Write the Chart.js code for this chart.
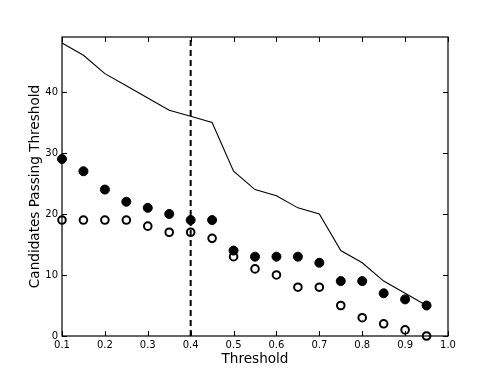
<!DOCTYPE html>
<html>
<head>
<meta charset="utf-8">
<script src="https://cdn.jsdelivr.net/npm/chart.js@4"></script>
<style>
  html, body { margin: 0; padding: 0; background: #fff; }
  #wrap { width: 498px; height: 374px; }
</style>
</head>
<body>
<div id="wrap"><canvas id="chart" width="498" height="374"></canvas></div>
<script>
// thresholds and counts
const thresholds = [0.1, 0.15, 0.2, 0.25, 0.3, 0.35, 0.4, 0.45, 0.5, 0.55, 0.6, 0.65, 0.7, 0.75, 0.8, 0.85, 0.9, 0.95];
const allCandidates = [48, 46, 43, 41, 39, 37, 36, 35, 27, 24, 23, 21, 20, 14, 12, 9, 7, 5];
const filledCounts = [29, 27, 24, 22, 21, 20, 19, 19, 14, 13, 13, 13, 12, 9, 9, 7, 6, 5];
const openCounts = [19, 19, 19, 19, 18, 17, 17, 16, 13, 11, 10, 8, 8, 5, 3, 2, 1, 0];
const chosenThreshold = 0.4;

const xTicks = [0.1, 0.2, 0.3, 0.4, 0.5, 0.6, 0.7, 0.8, 0.9, 1.0];
const yTicks = [0, 10, 20, 30, 40];
const xMin = 0.1, xMax = 1.0, yMin = 0, yMax = 49;

const toPoints = (xs, ys) => xs.map((x, i) => ({ x: x, y: ys[i] }));

// frame + inward ticks on all four sides, matplotlib style
const frameTicks = {
    id: 'frameTicks',
    afterDraw(chart) {
        const { ctx, chartArea: a, scales } = chart;
        ctx.save();
        ctx.strokeStyle = '#000';
        ctx.lineWidth = 1;
        xTicks.forEach(v => {
            const px = Math.round(scales.x.getPixelForValue(v)) + 0.5;
            ctx.beginPath();
            ctx.moveTo(px, a.bottom); ctx.lineTo(px, a.bottom - 5);
            ctx.moveTo(px, a.top); ctx.lineTo(px, a.top + 5);
            ctx.stroke();
        });
        yTicks.forEach(v => {
            const py = Math.round(scales.y.getPixelForValue(v)) + 0.5;
            ctx.beginPath();
            ctx.moveTo(a.left, py); ctx.lineTo(a.left + 5, py);
            ctx.moveTo(a.right, py); ctx.lineTo(a.right - 5, py);
            ctx.stroke();
        });
        ctx.lineWidth = 1.2;
        ctx.strokeRect(a.left, a.top, a.right - a.left, a.bottom - a.top);
        ctx.restore();
    }
};

Chart.defaults.font.family = '"DejaVu Sans", sans-serif';
Chart.defaults.color = '#000';

new Chart(document.getElementById('chart'), {
    type: 'scatter',
    data: {
        datasets: [
            {
                type: 'line',
                data: [{ x: chosenThreshold, y: yMin }, { x: chosenThreshold, y: yMax }],
                borderColor: '#000',
                borderWidth: 2,
                borderDash: [6, 4],
                pointRadius: 0,
                fill: false
            },
            {
                type: 'line',
                data: toPoints(thresholds, allCandidates),
                borderColor: '#000',
                borderWidth: 1.1,
                pointRadius: 0,
                tension: 0,
                fill: false
            },
            {
                data: toPoints(thresholds, filledCounts),
                backgroundColor: '#000',
                borderColor: '#000',
                borderWidth: 1,
                pointRadius: 4.5
            },
            {
                data: toPoints(thresholds, openCounts),
                backgroundColor: '#fff',
                borderColor: '#000',
                borderWidth: 2,
                pointRadius: 3.8
            }
        ]
    },
    options: {
        responsive: false,
        animation: false,
        clip: false,
        layout: { padding: { left: 27, top: 37, right: 50, bottom: 0 } },
        plugins: { legend: { display: false }, tooltip: { enabled: false } },
        scales: {
            x: {
                type: 'linear',
                min: xMin,
                max: xMax,
                afterBuildTicks: s => { s.ticks = xTicks.map(v => ({ value: v })); },
                afterFit: s => { s.height = 38; },
                grid: { display: false, drawTicks: false },
                border: { display: false },
                ticks: {
                    font: { size: 10 },
                    padding: 3,
                    maxRotation: 0,
                    callback: v => v.toFixed(1)
                },
                title: {
                    display: true,
                    text: 'Threshold',
                    font: { size: 13.6 },
                    padding: { top: 0, bottom: 6 }
                }
            },
            y: {
                min: yMin,
                max: yMax,
                afterBuildTicks: s => { s.ticks = yTicks.map(v => ({ value: v })); },
                afterFit: s => { s.width = 35; },
                grid: { display: false, drawTicks: false },
                border: { display: false },
                ticks: { font: { size: 10 }, padding: 4 },
                title: {
                    display: true,
                    text: 'Candidates Passing Threshold',
                    font: { size: 13.6 },
                    padding: { top: 0, bottom: 0 }
                }
            }
        }
    },
    plugins: [frameTicks]
});
</script>
</body>
</html>
